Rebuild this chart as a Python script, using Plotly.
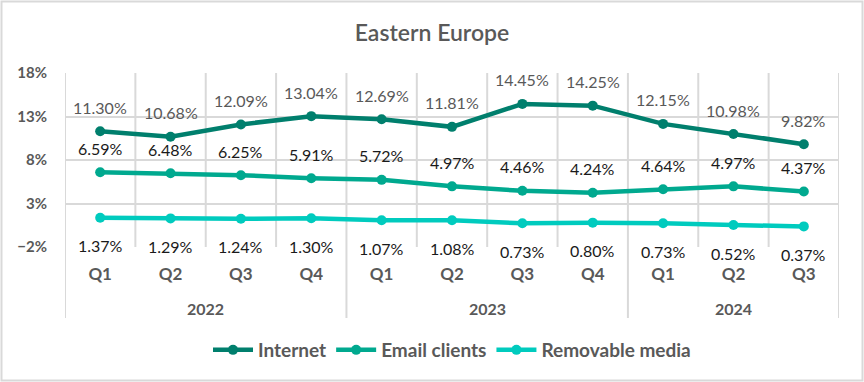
import plotly.graph_objects as go

quarters = ["Q1", "Q2", "Q3", "Q4", "Q1", "Q2", "Q3", "Q4", "Q1", "Q2", "Q3"]
years = ["2022", "2023", "2024"]
year_counts = [4, 4, 3]
internet = [11.30, 10.68, 12.09, 13.04, 12.69, 11.81, 14.45, 14.25, 12.15, 10.98, 9.82]
email = [6.59, 6.48, 6.25, 5.91, 5.72, 4.97, 4.46, 4.24, 4.64, 4.97, 4.37]
removable = [1.37, 1.29, 1.24, 1.30, 1.07, 1.08, 0.73, 0.80, 0.73, 0.52, 0.37]

W, H = 864, 382
ml, mr, mt, mb = 65, 25, 73, 135
pw = W - ml - mr
ph = H - mt - mb

x = list(range(len(quarters)))
FONT = "Lato"
GRAY = "#595959"
GRID = "#D9D9D9"

fig = go.Figure()
annotations = []
series = [
    ("Internet", internet, "#007F6D", 24, GRAY),
    ("Email clients", email, "#00A98F", 24, "#1a1a1a"),
    ("Removable media", removable, "#00CBBE", -28, "#1a1a1a"),
]
for name, vals, col, shift, tcol in series:
    fig.add_trace(go.Scatter(
        x=x, y=vals, name=name, mode="lines+markers",
        line=dict(color=col, width=4.5),
        marker=dict(color=col, size=10),
        cliponaxis=False,
    ))
    for xi, v in zip(x, vals):
        annotations.append(dict(x=xi, y=v, xref="x", yref="y", yshift=shift,
                                text=f"{v:.2f}%", showarrow=False,
                                font=dict(family=FONT, size=16, color=tcol),
                                xanchor="center", yanchor="middle"))

shapes = []
for i in range(len(quarters) + 1):
    b = i - 0.5
    shapes.append(dict(type="line", xref="x", yref="y", x0=b, x1=b, y0=-2, y1=18,
                       line=dict(color=GRID, width=2), layer="below"))
pos = -0.5
bounds = [pos]
for c in year_counts:
    pos += c
    bounds.append(pos)
for b in bounds:
    shapes.append(dict(type="line", xref="x", yref="paper", x0=b, x1=b, y0=-71 / ph, y1=0,
                       line=dict(color=GRID, width=2), layer="above"))
shapes.append(dict(type="rect", xref="paper", yref="paper",
                   x0=(-ml + 1.5) / pw, x1=(pw + mr - 1.5) / pw,
                   y0=(-mb + 1.5) / ph, y1=(ph + mt - 1.5) / ph,
                   line=dict(color=GRID, width=2)))

start = 0
for yr, c in zip(years, year_counts):
    center = start + (c - 1) / 2
    annotations.append(dict(x=center, xref="x", y=-61 / ph, yref="paper", text=f"<b>{yr}</b>",
                            showarrow=False, font=dict(family=FONT, size=16, color=GRAY),
                            yanchor="middle"))
    start += c

fig.update_layout(
    width=W, height=H,
    margin=dict(l=ml, r=mr, t=mt, b=mb),
    paper_bgcolor="white", plot_bgcolor="white",
    title=dict(text="Eastern Europe", x=0.5, xanchor="center", y=1 - 33 / H, yanchor="middle",
               font=dict(family=FONT, size=23, color=GRAY, weight=600)),
    xaxis=dict(range=[-0.5, len(quarters) - 0.5], tickvals=x,
               ticktext=[f"<b>{q}</b>" for q in quarters],
               showgrid=False, zeroline=False, showline=False, ticks="",
               tickfont=dict(family=FONT, size=17, color=GRAY), ticklabelstandoff=15),
    yaxis=dict(range=[-2, 18], tick0=-2, dtick=5, ticksuffix="%",
               showgrid=True, gridcolor=GRID, gridwidth=2, zeroline=False,
               tickfont=dict(family=FONT, size=15, color=GRAY, weight="bold"), ticks="",
               ticklabelstandoff=17),
    legend=dict(orientation="h", x=0.5, xanchor="center", y=-103 / ph, yanchor="middle",
                font=dict(family=FONT, size=19, color=GRAY, weight="bold"),
                itemwidth=40),
    shapes=shapes,
    annotations=annotations,
    showlegend=True,
)

fig.write_html("out.html", post_script="document.body.style.margin='0';",
               config={"displayModeBar": False})
